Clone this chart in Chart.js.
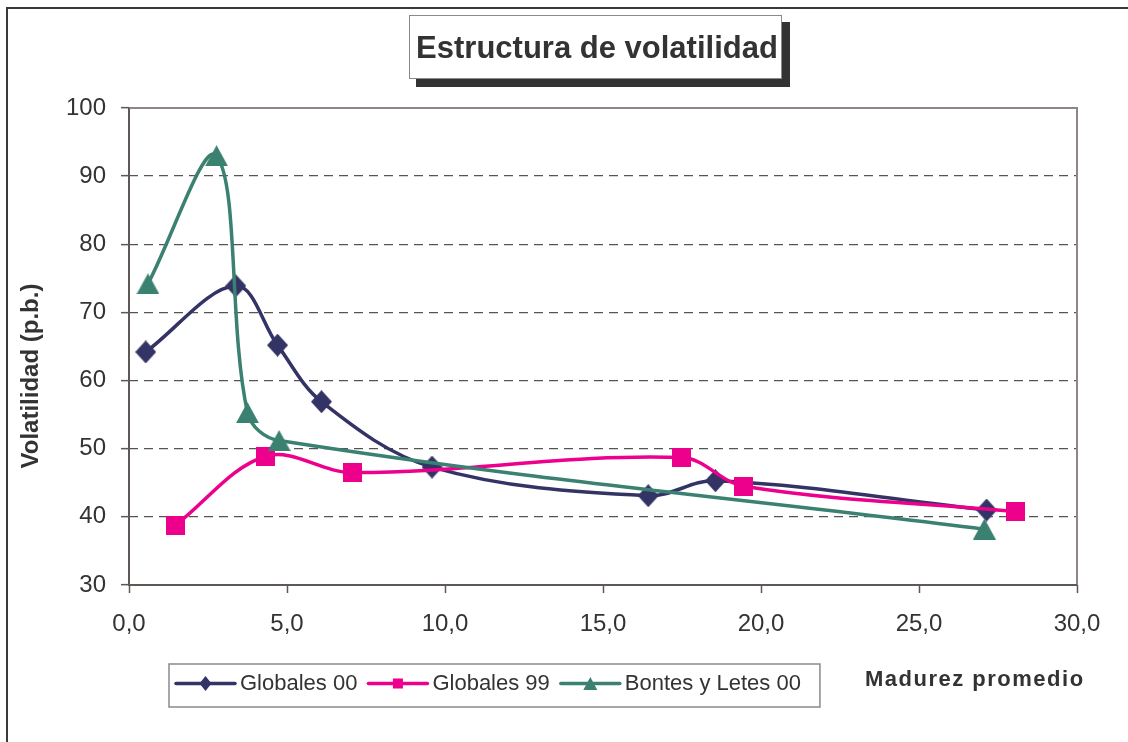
<!DOCTYPE html>
<html>
<head>
<meta charset="utf-8">
<script src="https://cdn.jsdelivr.net/npm/chart.js@4.4.1/dist/chart.umd.min.js"></script>
<style>
html,body{margin:0;padding:0;background:#fff;}
#wrap{width:1128px;height:742px;position:relative;}
</style>
</head>
<body>
<div id="wrap"><canvas id="c" width="1128" height="742"></canvas></div>
<script>
// ---- data ----
const titleText = 'Estructura de volatilidad';
const xAxisTitle = 'Madurez promedio';
const yAxisTitle = 'Volatilidad (p.b.)';
const seriesNames = ['Globales 00', 'Globales 99', 'Bontes y Letes 00'];
const xTickValues = [0, 5, 10, 15, 20, 25, 30];
const yTickValues = [30, 40, 50, 60, 70, 80, 90, 100];

const globales00X = [0.53, 3.38, 4.70, 6.09, 9.59, 16.43, 18.56, 27.14];
const globales00Y = [64.2, 73.9, 65.2, 56.9, 47.3, 43.1, 45.3, 41.0];
const globales99X = [1.48, 4.33, 7.06, 17.49, 19.46, 28.04];
const globales99Y = [38.8, 48.9, 46.5, 48.7, 44.5, 40.8];
const bontesX = [0.60, 2.77, 3.75, 4.75, 27.07];
const bontesY = [74.2, 93.0, 55.3, 51.2, 38.2];

// ---- styles ----
const colors = ['#333366', '#ec008c', '#3b8172'];
const shapes = ['diamond', 'square', 'triangle'];
const FONT = "'Liberation Sans', Arial, Helvetica, sans-serif";
const TEXT = '#333333';

function shapePath(ctx, shape, cx, cy, w, h) {
  ctx.beginPath();
  if (shape === 'diamond') {
    ctx.moveTo(cx, cy - h / 2); ctx.lineTo(cx + w / 2, cy); ctx.lineTo(cx, cy + h / 2); ctx.lineTo(cx - w / 2, cy);
  } else if (shape === 'square') {
    ctx.rect(cx - w / 2, cy - h / 2, w, h);
  } else {
    ctx.moveTo(cx, cy - h / 2); ctx.lineTo(cx + w / 2, cy + h / 2); ctx.lineTo(cx - w / 2, cy + h / 2);
  }
  ctx.closePath();
}

function markerCanvas(shape, w, h, color) {
  const c = document.createElement('canvas');
  c.width = w; c.height = h;
  const x = c.getContext('2d');
  x.fillStyle = color;
  shapePath(x, shape, w / 2, h / 2, w, h);
  x.fill();
  return c;
}

const markerSizes = [[21, 23], [19, 19], [23, 21]];
const markerImgs = shapes.map((s, i) => markerCanvas(s, markerSizes[i][0], markerSizes[i][1], colors[i]));

function pts(xs, ys) { return xs.map((x, i) => ({ x: x, y: ys[i] })); }

const datasets = [
  { label: seriesNames[0], data: pts(globales00X, globales00Y), order: 3 },
  { label: seriesNames[1], data: pts(globales99X, globales99Y), order: 2 },
  { label: seriesNames[2], data: pts(bontesX, bontesY), order: 1 }
].map((d, i) => Object.assign(d, {
  borderColor: colors[i],
  backgroundColor: colors[i],
  borderWidth: 3.5,
  tension: 0.35,
  pointStyle: markerImgs[i],
  pointRadius: 10,
  pointHoverRadius: 10,
  pointBorderWidth: 0,
  pointBackgroundColor: colors[i],
  fill: false
}));

const decor = {
  id: 'decor',
  beforeDraw(chart) {
    const ctx = chart.ctx;
    ctx.save();
    ctx.fillStyle = '#fff';
    ctx.fillRect(0, 0, chart.width, chart.height);
    ctx.strokeStyle = '#3a3a3a';
    ctx.lineWidth = 2;
    ctx.strokeRect(7, 8, 1200, 800);
    ctx.restore();
  },
  beforeDatasetsDraw(chart) {
    const ctx = chart.ctx, a = chart.chartArea;
    ctx.save();
    ctx.lineWidth = 2;
    ctx.strokeStyle = '#8f8683';
    ctx.beginPath();
    ctx.moveTo(a.left, a.top); ctx.lineTo(a.right, a.top); ctx.lineTo(a.right, a.bottom);
    ctx.stroke();
    ctx.strokeStyle = '#5e5856';
    ctx.beginPath();
    ctx.moveTo(a.left, a.top); ctx.lineTo(a.left, a.bottom); ctx.lineTo(a.right, a.bottom);
    ctx.stroke();
    ctx.restore();
  },
  afterDraw(chart) {
    const ctx = chart.ctx;
    ctx.save();
    // title box with shadow
    ctx.fillStyle = '#333333';
    ctx.fillRect(416, 22, 374, 65);
    ctx.fillStyle = '#fff';
    ctx.fillRect(409, 15, 373, 64);
    ctx.strokeStyle = '#8a8a8a';
    ctx.lineWidth = 1;
    ctx.strokeRect(409.5, 15.5, 372, 63);
    ctx.fillStyle = TEXT;
    ctx.font = 'bold 31px ' + FONT;
    ctx.textAlign = 'center';
    ctx.textBaseline = 'alphabetic';
    ctx.fillText(titleText, 597, 58);

    // y axis title
    ctx.save();
    ctx.translate(38, 376);
    ctx.rotate(-Math.PI / 2);
    ctx.font = 'bold 24px ' + FONT;
    ctx.textAlign = 'center';
    ctx.fillText(yAxisTitle, 0, 0);
    ctx.restore();

    // x axis title
    ctx.font = 'bold 22px ' + FONT;
    ctx.textAlign = 'left';
    try { ctx.letterSpacing = '1.5px'; } catch (e) {}
    ctx.fillText(xAxisTitle, 865, 686);
    try { ctx.letterSpacing = '0px'; } catch (e) {}

    // legend
    const ly = 683.5;
    ctx.font = '22px ' + FONT;
    let x = 176;
    const ms = [[12, 15], [10, 10], [14, 13]];
    for (let i = 0; i < seriesNames.length; i++) {
      ctx.strokeStyle = colors[i];
      ctx.lineWidth = 3.5;
      ctx.lineCap = 'round';
      ctx.beginPath();
      ctx.moveTo(x, ly); ctx.lineTo(x + 59, ly);
      ctx.stroke();
      ctx.fillStyle = colors[i];
      shapePath(ctx, shapes[i], x + 29.5, ly, ms[i][0], ms[i][1]);
      ctx.fill();
      ctx.fillStyle = TEXT;
      ctx.fillText(seriesNames[i], x + 64, 690);
      x = x + 64 + ctx.measureText(seriesNames[i]).width + 11;
    }
    const boxRight = x + 8;
    ctx.strokeStyle = '#8a8a8a';
    ctx.lineWidth = 1.5;
    ctx.strokeRect(169, 664, boxRight - 169, 43);
    ctx.restore();
  }
};

new Chart(document.getElementById('c'), {
  type: 'line',
  data: { datasets: datasets },
  plugins: [decor],
  options: {
    responsive: false,
    animation: false,
    devicePixelRatio: 1,
    layout: { padding: { left: 0, top: 108, right: 51, bottom: 0 } },
    plugins: { legend: { display: false }, title: { display: false }, tooltip: { enabled: false } },
    elements: { line: { capBezierPoints: true } },
    scales: {
      x: {
        type: 'linear', min: 0, max: 30,
        afterFit: s => { s.height = 157; },
        afterBuildTicks: s => { s.ticks = xTickValues.map(v => ({ value: v })); },
        grid: { drawOnChartArea: false, drawTicks: true, tickLength: 8, tickColor: '#5e5856', tickWidth: 1.5 },
        border: { display: false },
        ticks: {
          padding: 17, color: TEXT, font: { family: FONT, size: 24 },
          callback: v => v.toFixed(1).replace('.', ','),
          maxRotation: 0, autoSkip: false
        }
      },
      y: {
        type: 'linear', min: 30, max: 100,
        afterFit: s => { s.width = 129; },
        afterBuildTicks: s => { s.ticks = yTickValues.map(v => ({ value: v })); },
        grid: {
          drawOnChartArea: true, drawTicks: true, tickLength: 8,
          color: ctx => (ctx.tick && (ctx.tick.value === 30 || ctx.tick.value === 100)) ? 'rgba(0,0,0,0)' : '#555555',
          lineWidth: 1.3,
          tickColor: '#5e5856', tickWidth: 1.5, tickBorderDash: []
        },
        border: { display: false, dash: [9, 6] },
        ticks: { padding: 15, color: TEXT, font: { family: FONT, size: 24 }, autoSkip: false }
      }
    }
  }
});
</script>
</body>
</html>
